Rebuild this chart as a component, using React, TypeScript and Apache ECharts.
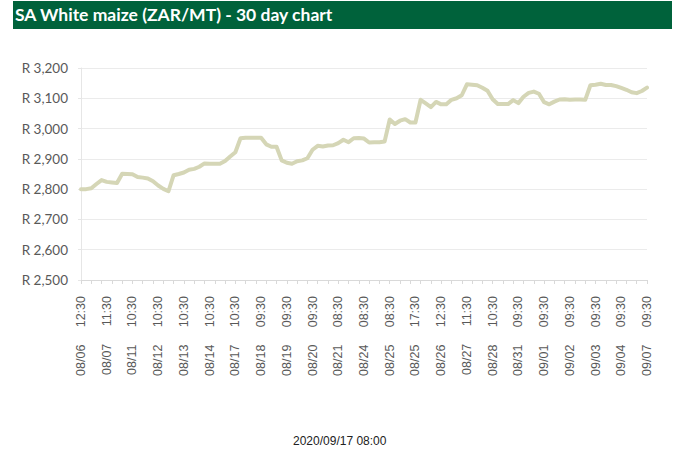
import React, { useEffect, useRef } from 'react';
import * as echarts from 'echarts';

const titleText = 'SA White maize (ZAR/MT) - 30 day chart';
const footerText = '2020/09/17 08:00';

// tick labels, one every LABEL_STEP observations
const xLabels = [
  '08/06 12:30', '08/07 11:30', '08/11 10:30', '08/12 10:30', '08/13 10:30',
  '08/14 10:30', '08/17 10:30', '08/18 09:30', '08/19 09:30', '08/20 09:30',
  '08/21 08:30', '08/24 08:30', '08/25 08:30', '08/25 17:30', '08/26 12:30',
  '08/27 11:30', '08/28 10:30', '08/31 09:30', '09/01 09:30', '09/02 09:30',
  '09/03 09:30', '09/04 09:30', '09/07 09:30',
];
const LABEL_STEP = 5;
const TICK_STEP = 2;

// price per observation (ZAR/MT)
const prices = [
  2800, 2800, 2803, 2817, 2830, 2824, 2822, 2820, 2851, 2850,
  2849, 2840, 2838, 2835, 2826, 2812, 2801, 2793, 2846, 2850,
  2855, 2864, 2867, 2874, 2885, 2884, 2884, 2884, 2893, 2908,
  2922, 2968, 2970, 2970, 2970, 2970, 2948, 2940, 2940, 2895,
  2887, 2884, 2892, 2895, 2902, 2930, 2943, 2941, 2944, 2945,
  2952, 2963, 2955, 2968, 2969, 2967, 2954, 2955, 2955, 2957,
  3030, 3015, 3026, 3031, 3020, 3020, 3095, 3083, 3071, 3088,
  3080, 3080, 3095, 3100, 3110, 3146, 3145, 3143, 3135, 3125,
  3097, 3081, 3081, 3081, 3094, 3084, 3105, 3118, 3122, 3115,
  3087, 3080, 3089, 3096, 3097, 3095, 3096, 3096, 3095, 3143,
  3145, 3148, 3144, 3144, 3140, 3134, 3128, 3120, 3117, 3124,
  3135,
];

const yMin = 2500;
const yMax = 3200;
const yStep = 100;

export default function App() {
  const ref = useRef<HTMLDivElement>(null);

  useEffect(() => {
    if (!ref.current) return;
    const chart = echarts.init(ref.current, null, { renderer: 'svg' });
    const lastIndex = prices.length - 1;
    chart.setOption({
      animation: false,
      backgroundColor: '#ffffff',
      grid: { left: 81, right: 31, top: 68, bottom: 179, containLabel: false },
      xAxis: [
        {
          type: 'value',
          min: 0,
          max: lastIndex,
          interval: LABEL_STEP,
          axisLine: { show: true, lineStyle: { color: '#d9d9d9', width: 1 } },
          axisTick: { show: false },
          splitLine: { show: false },
          axisLabel: {
            rotate: 90,
            margin: 16,
            color: '#595959',
            fontFamily: 'Liberation Sans, Arial, sans-serif',
            fontSize: 12.5,
            formatter: (v: number) => {
              const s = xLabels[Math.round(v / LABEL_STEP)] || '';
              return s.replace(' ', '\u00a0\u00a0\u00a0\u00a0\u00a0');
            },
          },
        },
        {
          type: 'value',
          position: 'bottom',
          min: 0,
          max: lastIndex,
          interval: TICK_STEP,
          axisLine: { show: false },
          axisTick: { show: true, length: 4, lineStyle: { color: '#d9d9d9' } },
          axisLabel: { show: false },
          splitLine: { show: false },
        },
      ],
      yAxis: {
        type: 'value',
        min: yMin,
        max: yMax,
        interval: yStep,
        axisLine: { show: true, lineStyle: { color: '#e6e6e6' } },
        axisTick: { show: true, length: 3, lineStyle: { color: '#e6e6e6' } },
        splitLine: { show: true, lineStyle: { color: '#ebebeb', width: 1 } },
        axisLabel: {
          margin: 13,
          color: '#595959',
          fontFamily: 'Lato, Carlito, sans-serif',
          fontSize: 13.5,
          formatter: (v: number) => 'R ' + v.toLocaleString('en-US'),
        },
      },
      series: [
        {
          type: 'line',
          xAxisIndex: 0,
          data: prices.map((p, i) => [i, p]),
          showSymbol: false,
          symbol: 'none',
          lineStyle: { color: '#d5d6b6', width: 4, cap: 'round', join: 'round' },
        },
      ],
      graphic: [
        {
          type: 'rect',
          left: 13,
          top: 1,
          shape: { width: 659, height: 28 },
          style: { fill: '#00623b' },
          silent: true,
        },
        {
          type: 'text',
          left: 15,
          top: 5,
          style: {
            text: titleText,
            fill: '#ffffff',
            font: 'bold 17.5px Lato, Carlito, sans-serif',
          },
        },
        {
          type: 'text',
          left: 293,
          top: 435,
          style: {
            text: footerText,
            fill: '#222222',
            font: '12px Liberation Sans, Arial, sans-serif',
          },
        },
      ],
    });
    return () => chart.dispose();
  }, []);

  return (
    <div
      ref={ref}
      style={{ position: 'absolute', left: 0, top: 0, width: 678, height: 459 }}
    />
  );
}
